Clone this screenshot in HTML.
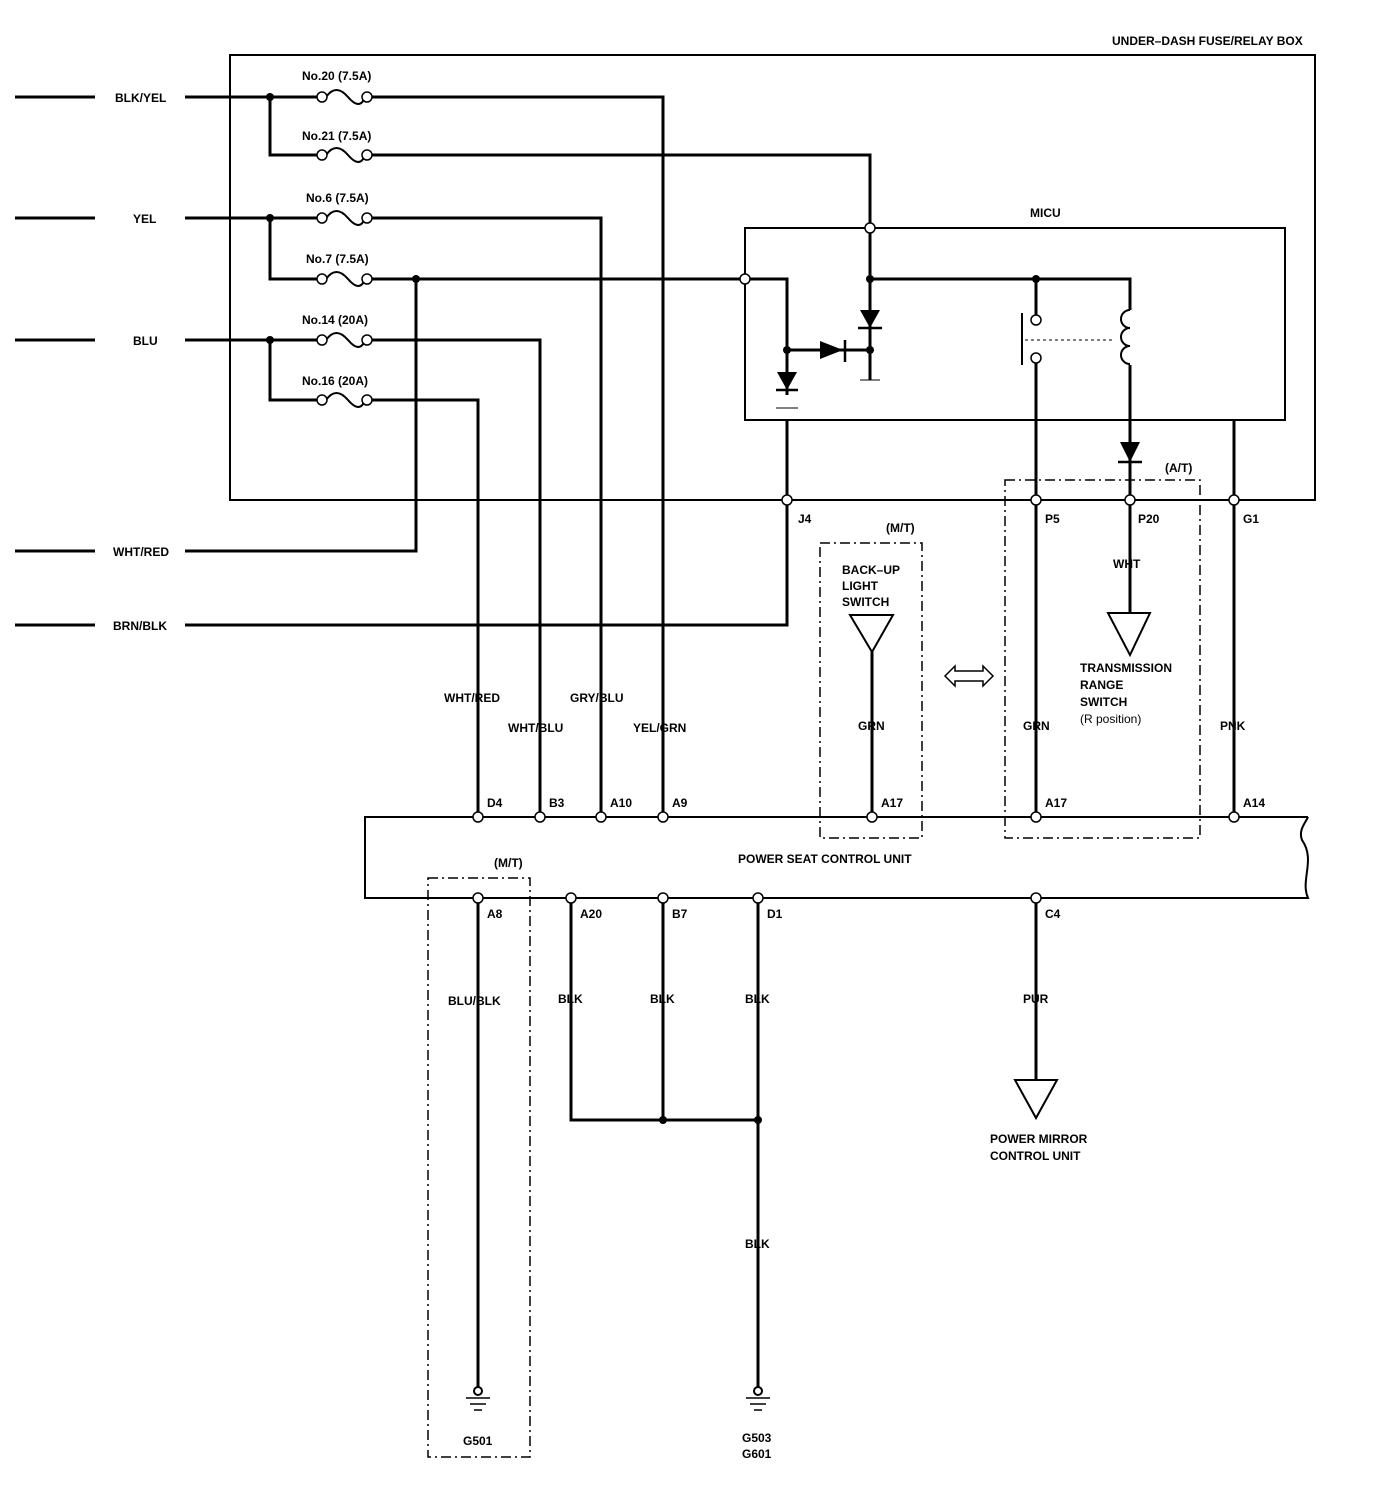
<!DOCTYPE html><html><head><meta charset="utf-8"><style>body{margin:0;background:#fff}svg{display:block}text{font-family:"Liberation Sans",sans-serif;font-weight:bold;font-size:12px;fill:#000}</style></head><body>
<svg width="1392" height="1496" viewBox="0 0 1392 1496" xmlns="http://www.w3.org/2000/svg">
<g fill="none" stroke="#000">
<!-- boxes -->
<rect x="230" y="55" width="1085" height="445" stroke-width="2"/>
<rect x="745" y="228" width="540" height="192" stroke-width="2"/>
<path d="M1308 817 H365 V898 H1308 C1300 880 1316 860 1302 840 C1298 830 1306 822 1308 817" stroke-width="2"/>
<g stroke-width="1.5" stroke-dasharray="10,4,2,4">
<rect x="1005" y="480" width="195" height="358"/>
<rect x="820" y="543" width="102" height="295"/>
<rect x="428" y="878" width="102" height="579"/>
</g>
<line x1="1025" y1="340" x2="1115" y2="340" stroke-width="1" stroke-dasharray="3,3"/>
<g stroke-width="3">
<path d="M15 97H95M185 97H320M370 97H663V817"/>
<path d="M270 97V155H320M370 155H870V228"/>
<path d="M15 218H95M185 218H320M370 218H601V817"/>
<path d="M270 218V279H320M370 279H745"/>
<path d="M416 279V551H185M15 551H95"/>
<path d="M15 340H95M185 340H320M370 340H540V817"/>
<path d="M270 340V400H320M370 400H478V817"/>
<path d="M15 625H95M185 625H787V420"/>
<path d="M745 279H787V395M787 350H870M870 228V380M870 279H1130V310M1036 279V318M1036 358V817M1130 365V613M1234 420V817M872 652V817"/>
<path d="M1022 313V365" stroke-width="2"/>
<path d="M478 898V1390M571 898V1120H758M663 898V1120M758 898V1390M1036 898V1080"/>
</g>
<!-- coil -->
<path d="M1130 310 a6 6 0 0 0 0 18 a6 6 0 0 0 0 18 a6 6 0 0 0 0 18" stroke-width="2"/>
<!-- fuses -->
<g stroke-width="2">
<path d="M326 97 q10 -14 22 0 t17 0"/><path d="M326 155 q10 -14 22 0 t17 0"/>
<path d="M326 218 q10 -14 22 0 t17 0"/><path d="M326 279 q10 -14 22 0 t17 0"/>
<path d="M326 340 q10 -14 22 0 t17 0"/><path d="M326 400 q10 -14 22 0 t17 0"/>
</g>
<g stroke-width="2.5"><path d="M776 390H798M858 328H882M845 340V362M1118 462H1142"/></g>
<path d="M776 408H798M860 380H880" stroke-width="1"/>
<!-- triangles -->
<g stroke-width="2"><path d="M850 615H893L872 652Z"/><path d="M1108 613H1150L1130 655Z"/><path d="M1015 1080H1057L1036 1118Z"/>
<path d="M945 676 l10 -10 v5 h28 v-5 l10 10 l-10 10 v-5 h-28 v5z" stroke-width="1.5"/></g>
<!-- grounds -->
<g stroke-width="1.5"><path d="M466 1398H490M470 1404H486M474 1410H482M746 1398H770M750 1404H766M754 1410H762"/></g>
<circle cx="478" cy="1391" r="4" stroke-width="2" fill="#fff"/><circle cx="758" cy="1391" r="4" stroke-width="2" fill="#fff"/>
</g>
<!-- diodes -->
<g fill="#000"><path d="M777 372H797L787 390Z"/><path d="M820 341V359L843 350Z"/><path d="M860 310H880L870 328Z"/><path d="M1120 442H1140L1130 462Z"/></g>
<!-- dots -->
<g fill="#000"><circle cx="270" cy="97" r="4"/><circle cx="270" cy="218" r="4"/><circle cx="270" cy="340" r="4"/><circle cx="416" cy="279" r="4"/><circle cx="787" cy="350" r="4"/><circle cx="870" cy="279" r="4"/><circle cx="870" cy="350" r="4"/><circle cx="1036" cy="279" r="4"/><circle cx="663" cy="1120" r="4"/><circle cx="758" cy="1120" r="4"/></g>
<g fill="#fff" stroke="#000" stroke-width="1.5">
<circle cx="322" cy="97" r="5"/><circle cx="367" cy="97" r="5"/><circle cx="322" cy="155" r="5"/><circle cx="367" cy="155" r="5"/>
<circle cx="322" cy="218" r="5"/><circle cx="367" cy="218" r="5"/><circle cx="322" cy="279" r="5"/><circle cx="367" cy="279" r="5"/>
<circle cx="322" cy="340" r="5"/><circle cx="367" cy="340" r="5"/><circle cx="322" cy="400" r="5"/><circle cx="367" cy="400" r="5"/>
<circle cx="870" cy="228" r="5"/><circle cx="745" cy="279" r="5"/><circle cx="1036" cy="320" r="5"/><circle cx="1036" cy="358" r="5"/>
<circle cx="787" cy="500" r="5"/><circle cx="1036" cy="500" r="5"/><circle cx="1130" cy="500" r="5"/><circle cx="1234" cy="500" r="5"/>
<circle cx="478" cy="817" r="5"/><circle cx="540" cy="817" r="5"/><circle cx="601" cy="817" r="5"/><circle cx="663" cy="817" r="5"/><circle cx="872" cy="817" r="5"/><circle cx="1036" cy="817" r="5"/><circle cx="1234" cy="817" r="5"/>
<circle cx="478" cy="898" r="5"/><circle cx="571" cy="898" r="5"/><circle cx="663" cy="898" r="5"/><circle cx="758" cy="898" r="5"/><circle cx="1036" cy="898" r="5"/>
</g>
<text x="1112" y="45">UNDER–DASH FUSE/RELAY BOX</text>
<text x="115" y="102">BLK/YEL</text><text x="133" y="223">YEL</text><text x="133" y="345">BLU</text><text x="113" y="556">WHT/RED</text><text x="113" y="630">BRN/BLK</text>
<text x="302" y="80">No.20 (7.5A)</text><text x="302" y="140">No.21 (7.5A)</text><text x="306" y="202">No.6 (7.5A)</text><text x="306" y="263">No.7 (7.5A)</text><text x="302" y="324">No.14 (20A)</text><text x="302" y="385">No.16 (20A)</text>
<text x="1030" y="217">MICU</text>
<text x="798" y="523">J4</text><text x="1045" y="523">P5</text><text x="1138" y="523">P20</text><text x="1243" y="523">G1</text>
<text x="1165" y="472">(A/T)</text><text x="886" y="532">(M/T)</text>
<text x="842" y="574">BACK–UP</text><text x="842" y="590">LIGHT</text><text x="842" y="606">SWITCH</text>
<text x="1113" y="568">WHT</text>
<text x="1080" y="672">TRANSMISSION</text><text x="1080" y="689">RANGE</text><text x="1080" y="706">SWITCH</text><text x="1080" y="723" style="font-weight:normal">(R position)</text>
<text x="444" y="702">WHT/RED</text><text x="508" y="732">WHT/BLU</text><text x="570" y="702">GRY/BLU</text><text x="633" y="732">YEL/GRN</text>
<text x="858" y="730">GRN</text><text x="1023" y="730">GRN</text><text x="1220" y="730">PNK</text>
<text x="487" y="807">D4</text><text x="549" y="807">B3</text><text x="610" y="807">A10</text><text x="672" y="807">A9</text><text x="881" y="807">A17</text><text x="1045" y="807">A17</text><text x="1243" y="807">A14</text>
<text x="738" y="863">POWER SEAT CONTROL UNIT</text>
<text x="494" y="867">(M/T)</text>
<text x="487" y="918">A8</text><text x="580" y="918">A20</text><text x="672" y="918">B7</text><text x="767" y="918">D1</text><text x="1045" y="918">C4</text>
<text x="448" y="1005">BLU/BLK</text><text x="558" y="1003">BLK</text><text x="650" y="1003">BLK</text><text x="745" y="1003">BLK</text><text x="1023" y="1003">PUR</text><text x="745" y="1248">BLK</text>
<text x="990" y="1143">POWER MIRROR</text><text x="990" y="1160">CONTROL UNIT</text>
<text x="463" y="1445">G501</text><text x="742" y="1442">G503</text><text x="742" y="1458">G601</text>
</svg></body></html>
